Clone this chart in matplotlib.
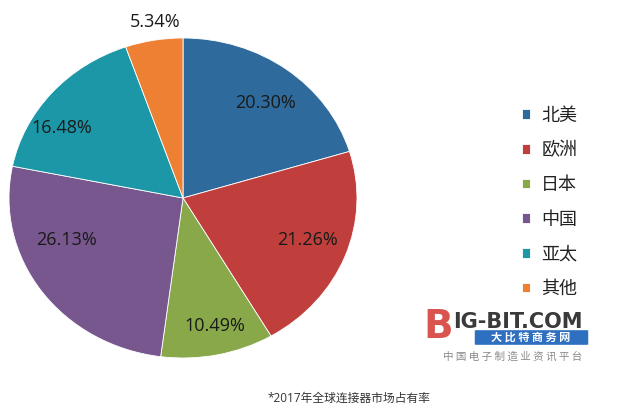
import matplotlib
matplotlib.use("Agg")
import matplotlib.pyplot as plt
import numpy as np
from matplotlib.patches import FancyBboxPatch

plt.rcParams['font.family'] = ['Open Sans', 'Noto Sans CJK SC', 'DejaVu Sans']

# market share data
regions = ['北美', '欧洲', '日本', '中国', '亚太', '其他']
shares = [20.30, 21.26, 10.49, 26.13, 16.48, 5.34]
colors = ['#2e6b9c', '#c03f3c', '#88a84a', '#77578e', '#1b97a8', '#ee8034']
caption = '*2017年全球连接器市场占有率'

# where the percentage labels sit (axes data units, pie radius = 1)
label_pos = [(0.477, 0.594), (0.713, -0.26), (0.184, -0.80),
             (-0.667, -0.26), (-0.695, 0.44), (-0.161, 1.10)]

fig = plt.figure(figsize=(6.18, 4.13), dpi=100)
ax = fig.add_axes([9 / 618, 55 / 413, 348 / 618, 320 / 413])

wedges, texts, autotexts = ax.pie(
    shares, colors=colors, startangle=90, counterclock=False,
    autopct='%.2f%%', pctdistance=0.77,
    wedgeprops=dict(edgecolor='white', linewidth=0.6),
    textprops=dict(fontsize=13, color='#1a1a1a'))

for t, p in zip(autotexts, label_pos):
    t.set_position(p)
ax.set_aspect('auto')
ax.set_xlim(-1, 1)
ax.set_ylim(-1, 1)
ax.axis('off')

leg = fig.legend(wedges, regions, loc='upper left', bbox_to_anchor=(506 / 618, 1 - 90.5 / 413),
                 frameon=False, handlelength=0.45, handleheight=0.45,
                 handletextpad=0.6, labelspacing=0.92,
                 prop=dict(family=['Noto Sans CJK SC'], size=13))
for t in leg.get_texts():
    t.set_color('#222222')

# watermark
fig.text(438 / 618, 1 - 327 / 413, 'B', fontsize=28, fontweight='bold', color='#d9534f',
         ha='center', va='center', family=['DejaVu Sans'])
fig.text(453 / 618, 1 - 322 / 413, 'IG-BIT.COM', fontsize=15, fontweight='bold',
         color='#3a3a3a', ha='left', va='center', family=['DejaVu Sans'])
box = FancyBboxPatch((476 / 618, 1 - 344 / 413), 111 / 618, 13 / 413,
                     boxstyle='round,pad=0.002', transform=fig.transFigure,
                     facecolor='#2f6fc0', edgecolor='none')
fig.patches.append(box)
fig.text(531 / 618, 1 - 337.5 / 413, '大 比 特 商 务 网', fontsize=8, color='white',
         ha='center', va='center', family=['Noto Sans CJK SC'], fontweight='bold')
fig.text(443 / 618, 1 - 357 / 413, '中 国 电 子 制 造 业 资 讯 平 台', fontsize=7.6,
         color='#8a8a8a', ha='left', va='center', family=['Noto Sans CJK SC'])

fig.text(349 / 618, 1 - 398 / 413, caption, fontsize=8.5, color='#333333',
         ha='center', va='center', family=['Open Sans', 'Noto Sans CJK SC'])

fig.savefig('out.png', dpi=100)
